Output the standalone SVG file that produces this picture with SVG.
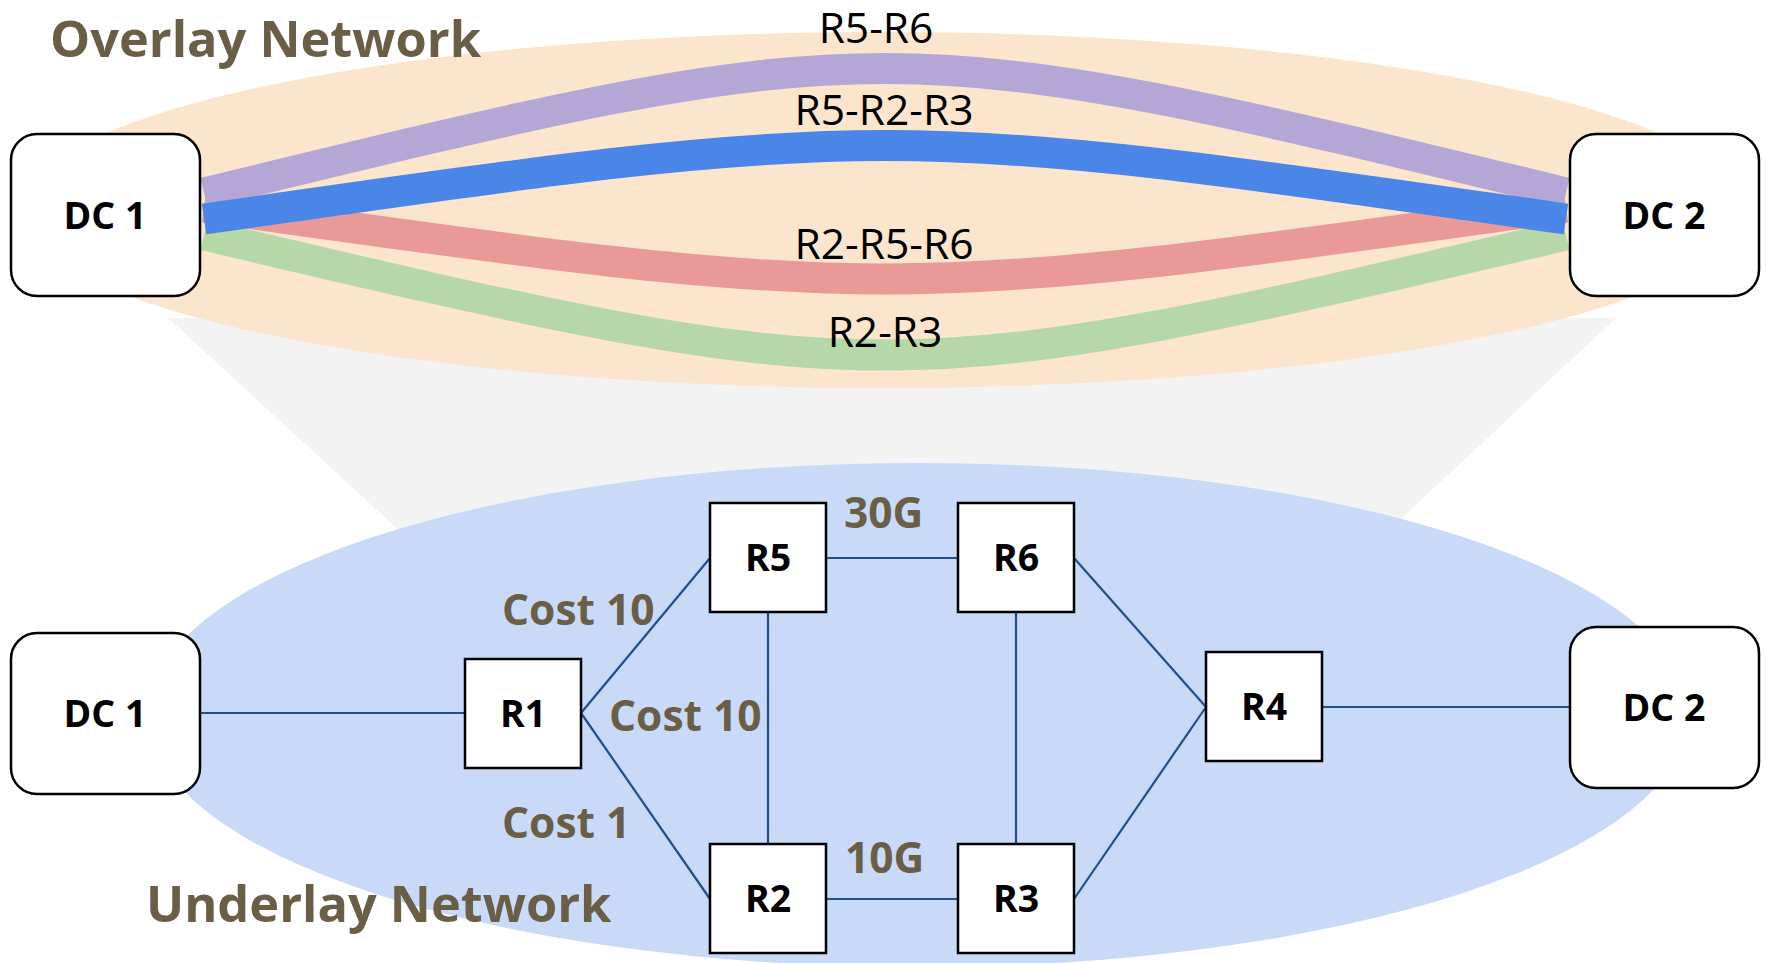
<svg xmlns="http://www.w3.org/2000/svg" width="1766" height="963" viewBox="0 0 1766 963">
  <style>
    .title { font-family: "Open Sans", "Noto Sans", sans-serif; font-weight: 700; font-size: 50.5px; fill: #6b5e46; }
    .elabel { font-family: "Open Sans", "Noto Sans", sans-serif; font-weight: 700; font-size: 42.5px; fill: #6b5e46; }
    .plabel { font-family: "Open Sans", "Noto Sans", sans-serif; font-weight: 400; font-size: 42.5px; fill: #000; text-anchor: middle; }
    .nlabel { font-family: "Open Sans", "Noto Sans", sans-serif; font-weight: 700; font-size: 37.5px; fill: #000; text-anchor: middle; dominant-baseline: central; }
    .dc { fill: #fff; stroke: #000; stroke-width: 2.5; }
    .rt { fill: #fff; stroke: #000; stroke-width: 2.5; }
    .link { stroke: #1f4e89; stroke-width: 2.2; fill: none; }
    .path { fill: none; stroke-width: 31; stroke-linecap: butt; }
  </style>

  <rect width="1766" height="963" fill="#fff"/>

  <!-- projection band between the two layers -->
  <polygon points="168,318 1616,318 1250,660 540,660" fill="#f3f3f3"/>

  <!-- overlay layer -->
  <ellipse cx="882" cy="210" rx="860" ry="178" fill="#fce5cd"/>

  <!-- underlay layer -->
  <ellipse cx="918" cy="715" rx="770" ry="252" fill="#c9daf8"/>

  <!-- overlay tunnels -->
  <g id="tunnels">
    <path class="path" stroke="#b6d7a8" d="M204,235 C885,395 885,395 1566,235"/>
    <path class="path" stroke="#ea9999" d="M204,207 C885,303 885,303 1566,207"/>
    <path class="path" stroke="#b4a7d6" d="M204,193 C885,27 885,27 1566,193"/>
    <path class="path" stroke="#4a86e8" d="M204,219 C885,121 885,121 1566,219"/>
  </g>

  <g id="tunnel-labels">
    <text class="plabel" x="876" y="43">R5-R6</text>
    <text class="plabel" x="884" y="125">R5-R2-R3</text>
    <text class="plabel" x="884" y="259">R2-R5-R6</text>
    <text class="plabel" x="885" y="347">R2-R3</text>
  </g>

  <!-- underlay links -->
  <g id="connectors">
    <line class="link" x1="200" y1="713" x2="465" y2="713"/>
    <line class="link" x1="581" y1="713" x2="710" y2="558"/>
    <line class="link" x1="581" y1="713" x2="710" y2="899"/>
    <line class="link" x1="826" y1="558" x2="958" y2="558"/>
    <line class="link" x1="768" y1="612" x2="768" y2="844"/>
    <line class="link" x1="1016" y1="612" x2="1016" y2="844"/>
    <line class="link" x1="826" y1="899" x2="958" y2="899"/>
    <line class="link" x1="1074" y1="558" x2="1206" y2="707"/>
    <line class="link" x1="1074" y1="899" x2="1206" y2="707"/>
    <line class="link" x1="1322" y1="707" x2="1570" y2="707"/>
  </g>

  <g id="link-labels">
    <text class="elabel" x="502" y="625">Cost 10</text>
    <text class="elabel" x="609" y="731">Cost 10</text>
    <text class="elabel" x="502" y="838">Cost 1</text>
    <text class="elabel" x="844" y="528">30G</text>
    <text class="elabel" x="845" y="873">10G</text>
  </g>

  <!-- overlay nodes -->
  <g id="dc1-overlay">
    <rect class="dc" x="11" y="134" width="189" height="162" rx="26"/>
    <text class="nlabel" x="105" y="214">DC 1</text>
  </g>
  <g id="dc2-overlay">
    <rect class="dc" x="1570" y="134" width="189" height="162" rx="26"/>
    <text class="nlabel" x="1664" y="214">DC 2</text>
  </g>

  <!-- underlay nodes -->
  <g id="dc1-underlay">
    <rect class="dc" x="11" y="633" width="189" height="161" rx="26"/>
    <text class="nlabel" x="105" y="712">DC 1</text>
  </g>
  <g id="dc2-underlay">
    <rect class="dc" x="1570" y="627" width="189" height="161" rx="26"/>
    <text class="nlabel" x="1664" y="706">DC 2</text>
  </g>
  <g id="r1">
    <rect class="rt" x="465" y="659" width="116" height="109"/>
    <text class="nlabel" x="523" y="712">R1</text>
  </g>
  <g id="r5">
    <rect class="rt" x="710" y="503" width="116" height="109"/>
    <text class="nlabel" x="768" y="556">R5</text>
  </g>
  <g id="r6">
    <rect class="rt" x="958" y="503" width="116" height="109"/>
    <text class="nlabel" x="1016" y="556">R6</text>
  </g>
  <g id="r2">
    <rect class="rt" x="710" y="844" width="116" height="109"/>
    <text class="nlabel" x="768" y="897">R2</text>
  </g>
  <g id="r3">
    <rect class="rt" x="958" y="844" width="116" height="109"/>
    <text class="nlabel" x="1016" y="897">R3</text>
  </g>
  <g id="r4">
    <rect class="rt" x="1206" y="652" width="116" height="109"/>
    <text class="nlabel" x="1264" y="705">R4</text>
  </g>

  <!-- layer titles -->
  <text class="title" x="50" y="57">Overlay Network</text>
  <text class="title" x="146" y="922">Underlay Network</text>
</svg>
